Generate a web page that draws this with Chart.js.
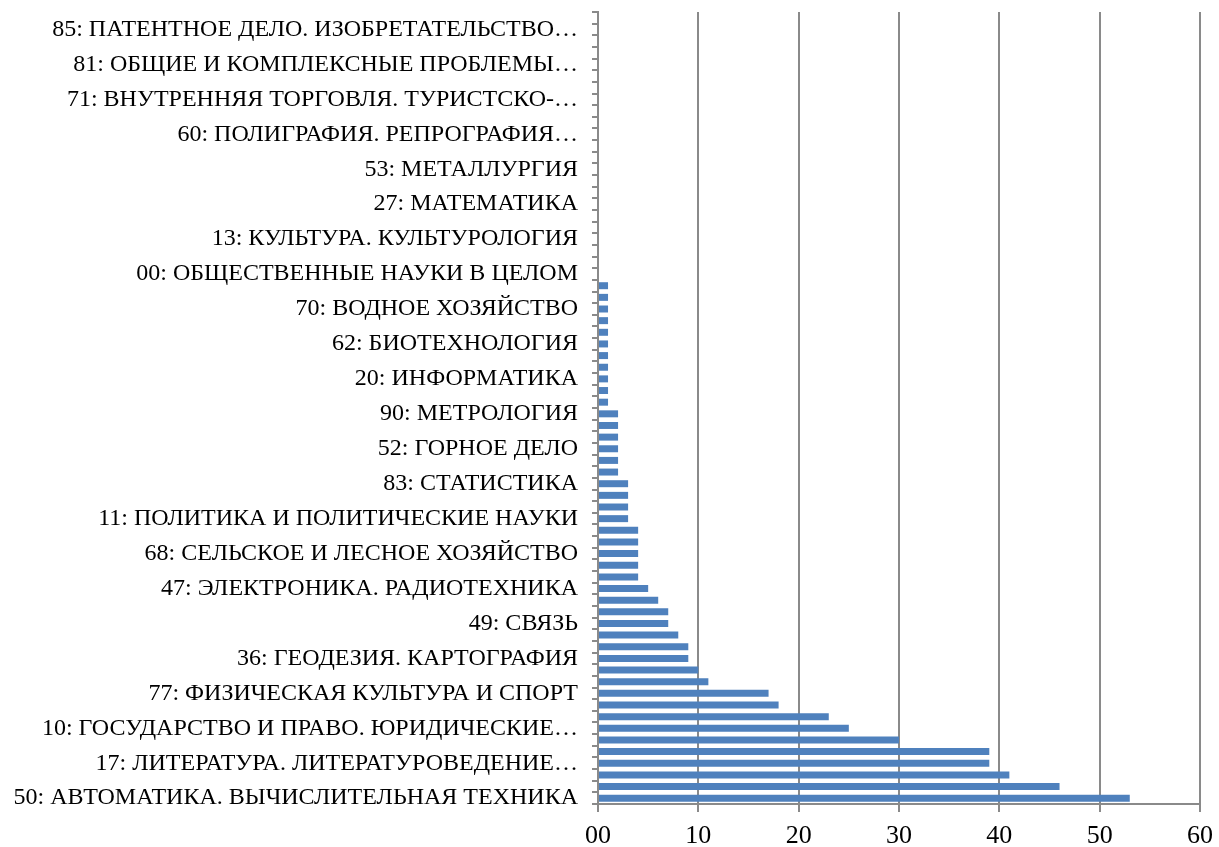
<!DOCTYPE html>
<html>
<head>
<meta charset="utf-8">
<script src="https://cdn.jsdelivr.net/npm/chart.js@4"></script>
<style>
  html, body { margin: 0; padding: 0; background: #fff; }
  #wrap { width: 1219px; height: 847px; }
</style>
</head>
<body>
<div id="wrap"><canvas id="myChart" width="1219" height="847"></canvas></div>
<script>
// Categories listed from the bottom bar upwards; only every third one is labelled in the picture
const categories = [
  "50: АВТОМАТИКА. ВЫЧИСЛИТЕЛЬНАЯ ТЕХНИКА", "", "",
  "17: ЛИТЕРАТУРА. ЛИТЕРАТУРОВЕДЕНИЕ…", "", "",
  "10: ГОСУДАРСТВО И ПРАВО. ЮРИДИЧЕСКИЕ…", "", "",
  "77: ФИЗИЧЕСКАЯ КУЛЬТУРА И СПОРТ", "", "",
  "36: ГЕОДЕЗИЯ. КАРТОГРАФИЯ", "", "",
  "49: СВЯЗЬ", "", "",
  "47: ЭЛЕКТРОНИКА. РАДИОТЕХНИКА", "", "",
  "68: СЕЛЬСКОЕ И ЛЕСНОЕ ХОЗЯЙСТВО", "", "",
  "11: ПОЛИТИКА И ПОЛИТИЧЕСКИЕ НАУКИ", "", "",
  "83: СТАТИСТИКА", "", "",
  "52: ГОРНОЕ ДЕЛО", "", "",
  "90: МЕТРОЛОГИЯ", "", "",
  "20: ИНФОРМАТИКА", "", "",
  "62: БИОТЕХНОЛОГИЯ", "", "",
  "70: ВОДНОЕ ХОЗЯЙСТВО", "", "",
  "00: ОБЩЕСТВЕННЫЕ НАУКИ В ЦЕЛОМ", "", "",
  "13: КУЛЬТУРА. КУЛЬТУРОЛОГИЯ", "", "",
  "27: МАТЕМАТИКА", "", "",
  "53: МЕТАЛЛУРГИЯ", "", "",
  "60: ПОЛИГРАФИЯ. РЕПРОГРАФИЯ…", "", "",
  "71: ВНУТРЕННЯЯ ТОРГОВЛЯ. ТУРИСТСКО-…", "", "",
  "81: ОБЩИЕ И КОМПЛЕКСНЫЕ ПРОБЛЕМЫ…", "", "",
  "85: ПАТЕНТНОЕ ДЕЛО. ИЗОБРЕТАТЕЛЬСТВО…", ""
];

// Counts, same order as categories (bottom to top)
const counts = [
  53, 46, 41, 39, 39, 30, 25, 23, 18, 17,
  11, 10, 9, 9, 8, 7, 7, 6, 5,
  4, 4, 4, 4, 4,
  3, 3, 3, 3,
  2, 2, 2, 2, 2, 2,
  1, 1, 1, 1, 1, 1, 1, 1, 1, 1, 1,
  0, 0, 0, 0, 0, 0, 0, 0, 0, 0, 0, 0,
  0, 0, 0, 0, 0, 0, 0, 0, 0, 0, 0
];

const xTicks = [0, 10, 20, 30, 40, 50, 60];

const axisGray = "#8a8a8a";
const serif = "'Liberation Serif', 'Times New Roman', serif";

const ctx = document.getElementById("myChart").getContext("2d");
new Chart(ctx, {
  type: "bar",
  data: {
    labels: categories,
    datasets: [{
      data: counts,
      backgroundColor: "#4f81bd",
      borderWidth: 0,
      barPercentage: 0.6,
      categoryPercentage: 1.0
    }]
  },
  options: {
    indexAxis: "y",
    responsive: false,
    animation: false,
    layout: { padding: { top: 12, right: 19, bottom: 0, left: 0 } },
    plugins: {
      legend: { display: false },
      tooltip: { enabled: false }
    },
    scales: {
      x: {
        min: xTicks[0],
        max: xTicks[xTicks.length - 1],
        afterBuildTicks: (scale) => { scale.ticks = xTicks.map(v => ({ value: v })); },
        afterFit: (scale) => { scale.height = 43; scale.paddingLeft = 0; scale.paddingRight = 0; },
        grid: { color: axisGray, lineWidth: 2, tickLength: 8 },
        border: { display: true, color: axisGray, width: 2 },
        ticks: {
          color: "#000",
          font: { family: serif, size: 26 },
          padding: 9,
          callback: (v) => String(v).padStart(2, "0")
        }
      },
      y: {
        reverse: true,
        afterFit: (scale) => { scale.width = 598; scale.paddingTop = 0; scale.paddingBottom = 0; },
        grid: { drawOnChartArea: false, color: axisGray, lineWidth: 2, tickLength: 6, offset: true },
        border: { display: true, color: axisGray, width: 2 },
        ticks: {
          autoSkip: false,
          color: "#000",
          font: { family: serif, size: 24 },
          padding: 14,
          callback: function (v, i) { return i % 3 === 0 ? this.getLabelForValue(v) : ""; }
        }
      }
    }
  }
});
</script>
</body>
</html>
